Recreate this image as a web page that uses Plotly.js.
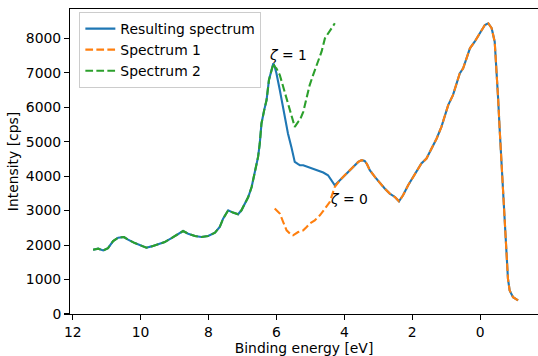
<!DOCTYPE html>
<html>
<head>
<meta charset="utf-8">
<script src="https://cdn.plot.ly/plotly-3.0.1.min.js"></script>
<style>html,body{margin:0;padding:0;background:#fff;}#chart{width:538px;height:356px;}</style>
</head>
<body>
<div id="chart"></div>
<script>
// Spectrum 2 (green dashed)
const spec2E = [11.40,11.25,11.10,10.96,10.81,10.66,10.49,10.37,10.17,9.97,9.83,9.68,9.48,9.29,9.09,8.90,8.75,8.60,8.40,8.21,8.01,7.81,7.67,7.57,7.42,7.28,7.13,7.03,6.93,6.83,6.73,6.64,6.54,6.49,6.44,6.36,6.29,6.22,6.14,6.09,6.05,6.00,5.90,5.80,5.70,5.60,5.51,5.46,5.36,5.31,5.21,5.11,5.02,4.92,4.77,4.67,4.57,4.48,4.38,4.28];
const spec2I = [1866,1895,1846,1913,2116,2215,2233,2157,2058,1971,1924,1962,2020,2087,2203,2331,2407,2331,2262,2233,2262,2360,2523,2767,3009,2942,2893,3009,3203,3395,3686,4076,4558,4948,5529,5916,6207,6788,7079,7273,7175,7128,6934,6593,6207,5916,5625,5430,5576,5625,5866,6256,6643,6934,7320,7611,8000,8145,8291,8436];

// Spectrum 1 (orange dashed)
const spec1E = [6.05,5.90,5.80,5.70,5.60,5.51,5.36,5.21,5.11,5.02,4.87,4.72,4.57,4.43,4.28,4.13,3.99,3.84,3.69,3.59,3.49,3.40,3.33,3.25,3.10,2.95,2.81,2.66,2.51,2.39,2.27,2.12,1.97,1.87,1.73,1.58,1.43,1.28,1.14,1.04,0.94,0.80,0.70,0.60,0.50,0.40,0.30,0.16,0.01,-0.14,-0.24,-0.34,-0.43,-0.48,-0.53,-0.58,-0.63,-0.68,-0.73,-0.78,-0.82,-0.87,-0.97,-1.12];
const spec1I = [3058,2913,2669,2427,2331,2282,2378,2427,2523,2622,2718,2863,3058,3250,3686,3881,4026,4172,4317,4413,4462,4442,4346,4172,3977,3785,3640,3494,3395,3270,3445,3736,3977,4172,4366,4512,4802,5093,5430,5721,6061,6352,6692,6983,7128,7419,7709,7901,8145,8387,8436,8291,7901,7224,6256,5285,4317,3349,2378,1701,1023,683,488,392];

// Resulting spectrum (blue solid)
const resE = [11.40,11.25,11.10,10.96,10.81,10.66,10.49,10.37,10.17,9.97,9.83,9.68,9.48,9.29,9.09,8.90,8.75,8.60,8.40,8.21,8.01,7.81,7.67,7.57,7.42,7.28,7.13,7.03,6.93,6.83,6.73,6.64,6.54,6.49,6.44,6.36,6.29,6.22,6.14,6.09,6.05,6.00,5.90,5.83,5.75,5.66,5.56,5.51,5.46,5.36,5.31,5.21,5.07,4.92,4.77,4.62,4.48,4.38,4.28,4.13,3.99,3.84,3.69,3.59,3.49,3.40,3.33,3.25,3.10,2.95,2.81,2.66,2.51,2.39,2.27,2.12,1.97,1.87,1.73,1.58,1.43,1.28,1.14,1.04,0.94,0.80,0.70,0.60,0.50,0.40,0.30,0.16,0.01,-0.14,-0.24,-0.34,-0.43,-0.48,-0.53,-0.58,-0.63,-0.68,-0.73,-0.78,-0.82,-0.87,-0.97,-1.12];
const resI = [1866,1895,1846,1913,2116,2215,2233,2157,2058,1971,1924,1962,2020,2087,2203,2331,2407,2331,2262,2233,2262,2360,2523,2767,3009,2942,2893,3009,3203,3395,3686,4076,4558,4948,5529,5916,6207,6788,7079,7273,7175,6983,6498,6110,5721,5238,4849,4657,4413,4346,4317,4317,4268,4221,4151,4105,4026,3881,3735,3881,4026,4172,4317,4413,4462,4442,4346,4172,3977,3785,3640,3494,3395,3270,3445,3736,3977,4172,4366,4512,4802,5093,5430,5721,6061,6352,6692,6983,7128,7419,7709,7901,8145,8387,8436,8291,7901,7224,6256,5285,4317,3349,2378,1701,1023,683,488,392];

const seriesNames = ["Resulting spectrum", "Spectrum 1", "Spectrum 2"];
const xTicks = [12, 10, 8, 6, 4, 2, 0];
const yTicks = [0, 1000, 2000, 3000, 4000, 5000, 6000, 7000, 8000];
const labels = [{x: 6.27, y: 7520, text: "<i>ζ</i> = 1"}, {x: 4.49, y: 3330, text: "<i>ζ</i> = 0"}];

const FONT = "DejaVu Sans, sans-serif";
const FS = 13.9;
const dash = "7.7px,3.3px";

const traces = [
  {x: resE, y: resI, name: seriesNames[0], legendgroup: "a", mode: "lines",
   line: {color: "#1f77b4", width: 2.1}},
  {x: spec1E, y: spec1I, name: seriesNames[1], legendgroup: "b", mode: "lines",
   line: {color: "#ff7f0e", width: 2.1, dash: dash}},
  {x: spec2E, y: spec2I, name: seriesNames[2], legendgroup: "c", mode: "lines",
   line: {color: "#2ca02c", width: 2.1, dash: dash}}
];

const layout = {
  width: 538, height: 356,
  margin: {l: 70, r: 0, t: 9, b: 42},
  paper_bgcolor: "#fff", plot_bgcolor: "#fff",
  font: {family: FONT, size: FS, color: "#000"},
  showlegend: true,
  legend: {
    x: 0.02, y: 0.99, xanchor: "left", yanchor: "top",
    bgcolor: "rgba(255,255,255,0.8)", bordercolor: "#cccccc", borderwidth: 1,
    font: {family: FONT, size: FS, color: "#000"},
    tracegroupgap: 3, traceorder: "normal"
  },
  xaxis: {
    range: [12.08, -1.705], tickvals: xTicks, ticktext: xTicks.map(String),
    showgrid: false, zeroline: false,
    showline: true, mirror: true, linecolor: "#000", linewidth: 1.1,
    ticks: "outside", ticklen: 4.9, tickwidth: 1.1, tickcolor: "#000",
    title: {text: "Binding energy [eV]", font: {family: FONT, size: FS, color: "#000"}, standoff: 6},
    automargin: false
  },
  yaxis: {
    range: [0, 8850], tickvals: yTicks, ticktext: yTicks.map(String),
    showgrid: false, zeroline: false,
    showline: true, mirror: true, linecolor: "#000", linewidth: 1.1,
    ticks: "outside", ticklen: 4.9, tickwidth: 1.1, tickcolor: "#000",
    title: {text: "Intensity [cps]", font: {family: FONT, size: FS, color: "#000"}, standoff: 4},
    automargin: false
  },
  annotations: labels.map(l => ({
    x: l.x, y: l.y, xref: "x", yref: "y", text: l.text, showarrow: false,
    xanchor: "left", yanchor: "middle", font: {family: FONT, size: FS, color: "#000"}
  }))
};

Plotly.newPlot("chart", traces, layout, {staticPlot: true, displayModeBar: false});
</script>
</body>
</html>
